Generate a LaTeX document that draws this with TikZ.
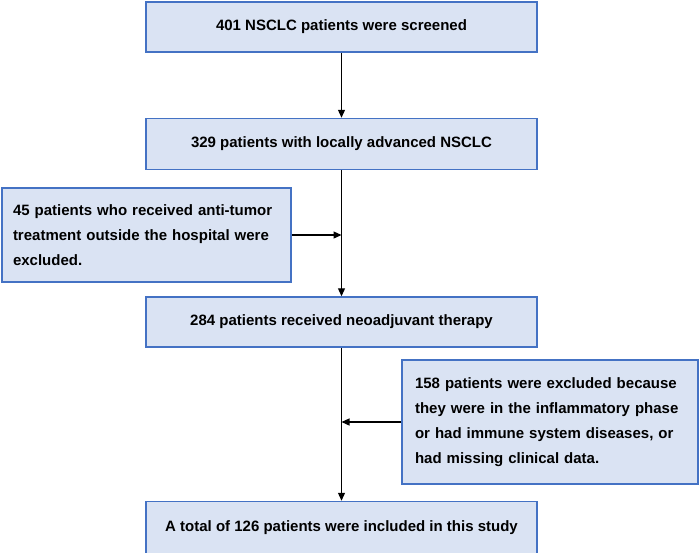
\documentclass[tikz,border=0pt]{standalone}
\usepackage{fontspec}
\setmainfont{Liberation Sans}
\usepackage{xcolor}
\usepackage{tikz}
\usetikzlibrary{arrows.meta, positioning, calc}
\definecolor{boxline}{HTML}{4472C4}
\definecolor{boxfill}{HTML}{DAE3F3}

\begin{document}
\begin{tikzpicture}[
    x=1pt, y=1pt,
    every node/.style={font=\fontsize{15pt}{25pt}\selectfont\bfseries},
    block/.style={rectangle, draw=boxline, fill=boxfill, line width=1.5pt,
                  minimum width=391pt, minimum height=50pt, align=center},
    sidebox/.style={rectangle, draw=boxline, fill=boxfill, line width=1.5pt,
                    align=left, inner ysep=4pt},
    arrow/.style={-{Triangle[length=8pt, width=7pt]}, line width=1.2pt,
                  color=black}
]
\useasboundingbox (0,0) rectangle (700,-552);

\node[block] (screened) at (341.5,-27) {401 NSCLC patients were screened};
\node[block, below=65pt of screened, minimum height=51pt] (advanced)
     {329 patients with locally advanced NSCLC};
\node[block, below=126pt of advanced] (neoadj)
     {284 patients received neoadjuvant therapy};
\node[block, below=153pt of neoadj, minimum height=53pt] (included)
     {A total of 126 patients were included in this study};

\node[sidebox, text width=267pt, inner xsep=11pt, minimum height=94pt]
     (outside) at (146.5,-235)
     {45 patients who received anti-tumor\\
      treatment outside the hospital were\\
      excluded.};
\node[sidebox, text width=270pt, inner xsep=13pt, minimum height=124pt]
     (inflam) at (550,-422)
     {158 patients were excluded because\\
      they were in the inflammatory phase\\
      or had immune system diseases, or\\
      had missing clinical data.};

\coordinate (j1) at (advanced.south |- outside.east);
\coordinate (j2) at (neoadj.south |- inflam.west);

\draw[arrow] (screened) -- (advanced);
\draw[arrow] (advanced) -- (neoadj);
\draw[arrow] (neoadj)   -- (included);
\draw[arrow] (outside.east) -- (j1);
\draw[arrow] (inflam.west)  -- (j2);

\end{tikzpicture}
\end{document}
